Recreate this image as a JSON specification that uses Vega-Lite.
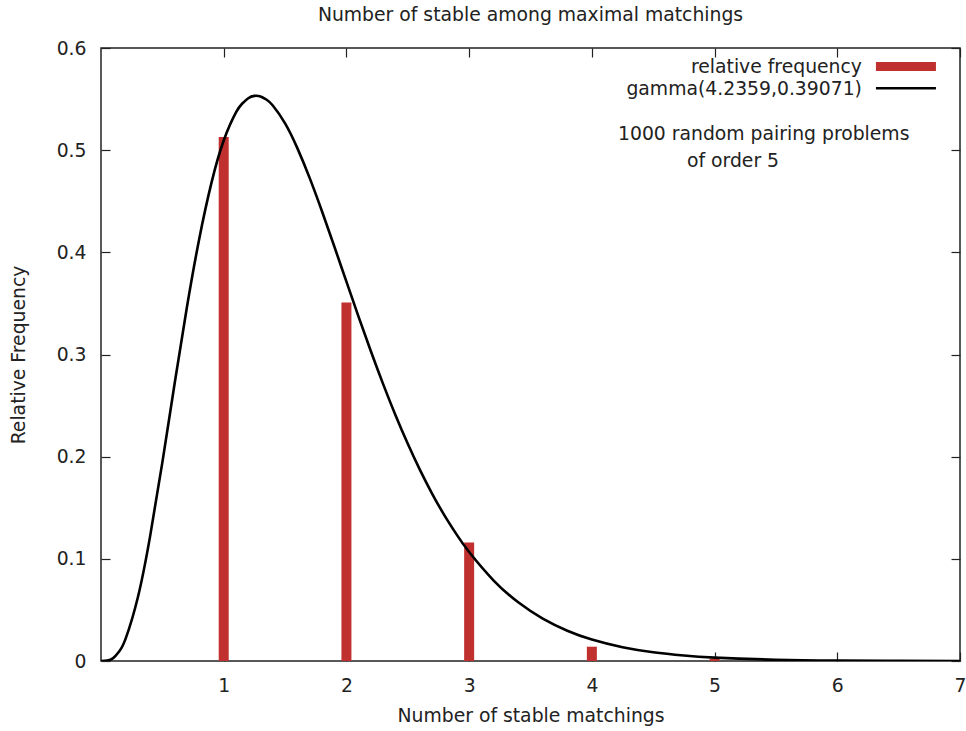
{
  "$schema": "https://vega.github.io/schema/vega-lite/v6.json",
  "autosize": {"type": "none"},
  "width": 859,
  "height": 613,
  "padding": {"left": 101, "top": 48, "right": 6, "bottom": 70},
  "background": "white",
  "title": {"text": "Number of stable among maximal matchings", "fontSize": 18.8, "font": "DejaVu Sans", "fontWeight": "normal", "color": "#222", "offset": 14},
  "config": {
    "font": "DejaVu Sans",
    "view": {"stroke": "#222", "strokeWidth": 1.5},
    "axis": {"grid": false, "domain": false, "labelFlush": false, "tickColor": "#222", "tickWidth": 1.2, "labelFont": "DejaVu Sans", "labelFontSize": 18.8, "labelColor": "#222", "titleFont": "DejaVu Sans", "titleFontSize": 18.8, "titleFontWeight": "normal", "titleColor": "#222"}
  },
  "datasets": {
    "bars": [
      {"n": 1, "freq": 0.513},
      {"n": 2, "freq": 0.351},
      {"n": 3, "freq": 0.116},
      {"n": 4, "freq": 0.014},
      {"n": 5, "freq": 0.002}
    ],
    "gamma": [
      {"x": 0, "pdf": 0},
      {"x": 0.05, "pdf": 0.00036},
      {"x": 0.1, "pdf": 0.00296},
      {"x": 0.15, "pdf": 0.00968},
      {"x": 0.2, "pdf": 0.02161},
      {"x": 0.3, "pdf": 0.06213},
      {"x": 0.4, "pdf": 0.122},
      {"x": 0.5, "pdf": 0.19443},
      {"x": 0.6, "pdf": 0.27157},
      {"x": 0.7, "pdf": 0.34622},
      {"x": 0.8, "pdf": 0.4129},
      {"x": 0.9, "pdf": 0.46799},
      {"x": 1.0, "pdf": 0.50947},
      {"x": 1.1, "pdf": 0.53692},
      {"x": 1.15, "pdf": 0.54551},
      {"x": 1.2, "pdf": 0.55086},
      {"x": 1.25, "pdf": 0.55313},
      {"x": 1.3, "pdf": 0.55254},
      {"x": 1.35, "pdf": 0.54932},
      {"x": 1.4, "pdf": 0.5437},
      {"x": 1.5, "pdf": 0.52622},
      {"x": 1.6, "pdf": 0.502},
      {"x": 1.7, "pdf": 0.4729},
      {"x": 1.8, "pdf": 0.4405},
      {"x": 1.9, "pdf": 0.40621},
      {"x": 2.0, "pdf": 0.37126},
      {"x": 2.1, "pdf": 0.33658},
      {"x": 2.2, "pdf": 0.30292},
      {"x": 2.3, "pdf": 0.27079},
      {"x": 2.4, "pdf": 0.2406},
      {"x": 2.5, "pdf": 0.21258},
      {"x": 2.6, "pdf": 0.18684},
      {"x": 2.7, "pdf": 0.16345},
      {"x": 2.8, "pdf": 0.14233},
      {"x": 2.9, "pdf": 0.12344},
      {"x": 3.0, "pdf": 0.10665},
      {"x": 3.2, "pdf": 0.07876},
      {"x": 3.4, "pdf": 0.05742},
      {"x": 3.6, "pdf": 0.04141},
      {"x": 3.8, "pdf": 0.02957},
      {"x": 4.0, "pdf": 0.02093},
      {"x": 4.25, "pdf": 0.01343},
      {"x": 4.5, "pdf": 0.00852},
      {"x": 4.75, "pdf": 0.00536},
      {"x": 5.0, "pdf": 0.00333},
      {"x": 5.5, "pdf": 0.00126},
      {"x": 6.0, "pdf": 0.00047},
      {"x": 6.5, "pdf": 0.00017},
      {"x": 7.0, "pdf": 0.00006}
    ]
  },
  "resolve": {"axis": {"x": "independent", "y": "independent"}},
  "layer": [
    {
      "data": {"name": "bars"},
      "mark": {"type": "bar", "size": 10, "color": "#c0302f"},
      "encoding": {
        "x": {"field": "n", "type": "quantitative", "scale": {"domain": [0, 7], "nice": false, "zero": false, "padding": 0},
              "axis": {"orient": "bottom", "values": [1, 2, 3, 4, 5, 6, 7], "tickSize": -9, "labelPadding": 24, "title": "Number of stable matchings", "titlePadding": 12}},
        "y": {"field": "freq", "type": "quantitative", "scale": {"domain": [0, 0.6], "nice": false, "padding": 0},
              "axis": {"orient": "left", "values": [0, 0.1, 0.2, 0.3, 0.4, 0.5, 0.6], "format": ".1~f", "tickSize": -9, "labelPadding": 24, "title": "Relative Frequency", "titlePadding": 28}}
      }
    },
    {
      "data": {"name": "bars"},
      "mark": {"type": "bar", "size": 10, "opacity": 0},
      "encoding": {
        "x": {"field": "n", "type": "quantitative", "axis": {"orient": "top", "values": [1, 2, 3, 4, 5, 6, 7], "tickSize": -9, "labels": false, "title": null}},
        "y": {"field": "freq", "type": "quantitative", "axis": {"orient": "right", "values": [0, 0.1, 0.2, 0.3, 0.4, 0.5, 0.6], "tickSize": -9, "labels": false, "title": null}}
      }
    },
    {
      "data": {"name": "gamma"},
      "mark": {"type": "line", "color": "black", "strokeWidth": 2.6, "interpolate": "natural", "clip": true},
      "encoding": {
        "x": {"field": "x", "type": "quantitative", "axis": null},
        "y": {"field": "pdf", "type": "quantitative", "axis": null}
      }
    },
    {
      "data": {"values": [{}]},
      "mark": {"type": "text", "text": "relative frequency", "align": "right", "baseline": "middle", "fontSize": 18.8, "color": "#222"},
      "encoding": {
        "x": {"datum": 6.201, "type": "quantitative", "axis": null},
        "y": {"datum": 0.5811, "type": "quantitative", "axis": null}
      }
    },
    {
      "data": {"values": [{}]},
      "mark": {"type": "text", "text": "gamma(4.2359,0.39071)", "align": "right", "baseline": "middle", "fontSize": 18.8, "color": "#222"},
      "encoding": {
        "x": {"datum": 6.201, "type": "quantitative", "axis": null},
        "y": {"datum": 0.5596, "type": "quantitative", "axis": null}
      }
    },
    {
      "data": {"values": [{}]},
      "mark": {"type": "text", "text": "1000 random pairing problems", "align": "left", "baseline": "middle", "fontSize": 18.8, "color": "#222"},
      "encoding": {
        "x": {"datum": 4.213, "type": "quantitative", "axis": null},
        "y": {"datum": 0.5155, "type": "quantitative", "axis": null}
      }
    },
    {
      "data": {"values": [{}]},
      "mark": {"type": "text", "text": "of order 5", "align": "left", "baseline": "middle", "fontSize": 18.8, "color": "#222"},
      "encoding": {
        "x": {"datum": 4.775, "type": "quantitative", "axis": null},
        "y": {"datum": 0.4892, "type": "quantitative", "axis": null}
      }
    },
    {
      "data": {"values": [{}]},
      "mark": {"type": "rule", "color": "#c0302f", "strokeWidth": 9, "strokeCap": "butt"},
      "encoding": {
        "x": {"datum": 6.315, "type": "quantitative", "axis": null},
        "x2": {"datum": 6.804},
        "y": {"datum": 0.582, "type": "quantitative", "axis": null}
      }
    },
    {
      "data": {"values": [{}]},
      "mark": {"type": "rule", "color": "black", "strokeWidth": 2.6, "strokeCap": "butt"},
      "encoding": {
        "x": {"datum": 6.315, "type": "quantitative", "axis": null},
        "x2": {"datum": 6.804},
        "y": {"datum": 0.5606, "type": "quantitative", "axis": null}
      }
    }
  ]
}
